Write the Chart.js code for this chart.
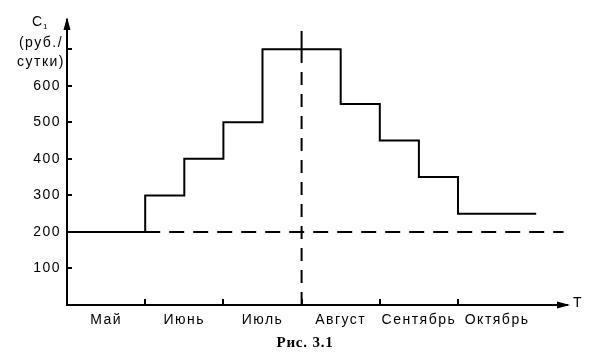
<!DOCTYPE html>
<html><head><meta charset="utf-8">
<script src="https://cdn.jsdelivr.net/npm/chart.js@4/dist/chart.umd.min.js"></script>
<style>html,body{margin:0;padding:0;background:#fff}</style>
</head><body>
<canvas id="c" width="600" height="360" style="width:600px;height:360px;display:block"></canvas>
<script>
// ---- data ----
const months = ['Май', 'Июнь', 'Июль', 'Август', 'Сентябрь', 'Октябрь'];
const stepBreaks = [0, 1, 1.5, 2, 2.5, 3.5, 4, 4.5, 5, 6];       // months from start of May
const stepLevels = [200, 300, 400, 500, 700, 550, 450, 350, 250]; // руб./сутки per interval
const yTicks = [100, 200, 300, 400, 500, 600, 700];
const yLabels = ['100', '200', '300', '400', '500', '600', ''];
const monthBounds = [1, 2, 3, 4, 5];
const baseLevel = 200;
const baseFrom = 1, baseTo = 6.35;
const peakMonth = 3;
const peakLevel = 700, peakTop = 750;
const xMax = 6.394, yMax = 780;
const caption = 'Рис. 3.1';

// ---- build series ----
const stepPts = stepBreaks.map((x, i) => ({x, y: stepLevels[Math.min(i, stepLevels.length - 1)]}));
const basePts = [{x: baseFrom, y: baseLevel}, {x: baseTo, y: baseLevel}];
const peakDashPts = [{x: peakMonth, y: 0}, {x: peakMonth, y: peakLevel}];
const peakSolidPts = [{x: peakMonth, y: peakLevel}, {x: peakMonth, y: peakTop}];

const INK = '#000';
const SANS = "'Liberation Sans', Arial, sans-serif";
const SERIF = "'Liberation Serif', 'Times New Roman', serif";

const spacing = {
  id: 'spacing',
  beforeLayout(chart) { chart.ctx.letterSpacing = '1.5px'; },
  beforeDraw(chart) { chart.ctx.letterSpacing = '1.5px'; }
};

const decor = {
  id: 'decor',
  afterDraw(chart) {
    const ctx = chart.ctx;
    const {left, top, bottom, right} = chart.chartArea;
    const xs = chart.scales.x, ys = chart.scales.y;
    ctx.save();
    ctx.strokeStyle = INK; ctx.fillStyle = INK; ctx.lineWidth = 2;
    // y ticks (inward)
    yTicks.forEach(v => {
      const py = Math.round(ys.getPixelForValue(v));
      ctx.beginPath(); ctx.moveTo(left, py); ctx.lineTo(left + 5, py); ctx.stroke();
    });
    // x ticks (inward)
    monthBounds.forEach(m => {
      const px = Math.round(xs.getPixelForValue(m));
      ctx.beginPath(); ctx.moveTo(px, bottom); ctx.lineTo(px, bottom - 6); ctx.stroke();
    });
    // arrows
    ctx.beginPath(); ctx.moveTo(left, top - 3); ctx.lineTo(left - 3.5, top + 10); ctx.lineTo(left + 3.5, top + 10); ctx.closePath(); ctx.fill();
    ctx.beginPath(); ctx.moveTo(right + 3, bottom); ctx.lineTo(right - 10, bottom - 3.5); ctx.lineTo(right - 10, bottom + 3.5); ctx.closePath(); ctx.fill();
    // texts
    ctx.letterSpacing = '1.5px';
    ctx.font = '14px ' + SANS;
    ctx.textBaseline = 'middle';
    ctx.textAlign = 'left';
    ctx.fillText('T', right + 6, bottom - 1.5);
    ctx.textAlign = 'center';
    ctx.fillText('(руб./', left - 26, top + 23);
    ctx.fillText('сутки)', left - 26, top + 42);
    ctx.textAlign = 'left';
    ctx.fillText('C', left - 35, top + 2);
    ctx.font = '8px ' + SANS;
    ctx.fillText('1', left - 24, top + 7);
    // caption
    ctx.letterSpacing = '0.8px';
    ctx.font = 'bold 15px ' + SERIF;
    ctx.textAlign = 'center';
    ctx.fillText(caption, 305, 343);
    ctx.restore();
  }
};

new Chart(document.getElementById('c').getContext('2d'), {
  type: 'line',
  data: {
    datasets: [
      {data: stepPts, stepped: 'before', borderColor: INK, borderWidth: 2, pointRadius: 0, fill: false},
      {data: basePts, borderColor: INK, borderWidth: 2, borderDash: [15, 9], pointRadius: 0, fill: false},
      {data: peakDashPts, borderColor: INK, borderWidth: 2, borderDash: [13, 9], pointRadius: 0, fill: false},
      {data: peakSolidPts, borderColor: INK, borderWidth: 2, pointRadius: 0, fill: false}
    ]
  },
  options: {
    responsive: false,
    animation: false,
    devicePixelRatio: 1,
    layout: {padding: {left: 0, right: 33, top: 20, bottom: 0}},
    plugins: {
      legend: {display: false},
      tooltip: {enabled: false},
      title: {display: false}
    },
    scales: {
      x: {
        type: 'linear', min: 0, max: xMax,
        grid: {display: false, drawTicks: false},
        border: {display: true, color: INK, width: 2},
        afterBuildTicks: s => { s.ticks = months.map((m, i) => ({value: i + 0.5})); },
        afterFit: s => { s.height = 55; },
        ticks: {autoSkip: false, maxRotation: 0, padding: 7, color: INK,
          font: {family: SANS, size: 14}, callback: (v, i) => months[i]}
      },
      y: {
        type: 'linear', min: 0, max: yMax,
        grid: {display: false, drawTicks: false},
        border: {display: true, color: INK, width: 2},
        afterBuildTicks: s => { s.ticks = yTicks.map(v => ({value: v})); },
        afterFit: s => { s.width = 67; },
        ticks: {padding: 6, color: INK, font: {family: SANS, size: 14}, callback: (v, i) => yLabels[i]}
      }
    }
  },
  plugins: [spacing, decor]
});
</script>
</body></html>
